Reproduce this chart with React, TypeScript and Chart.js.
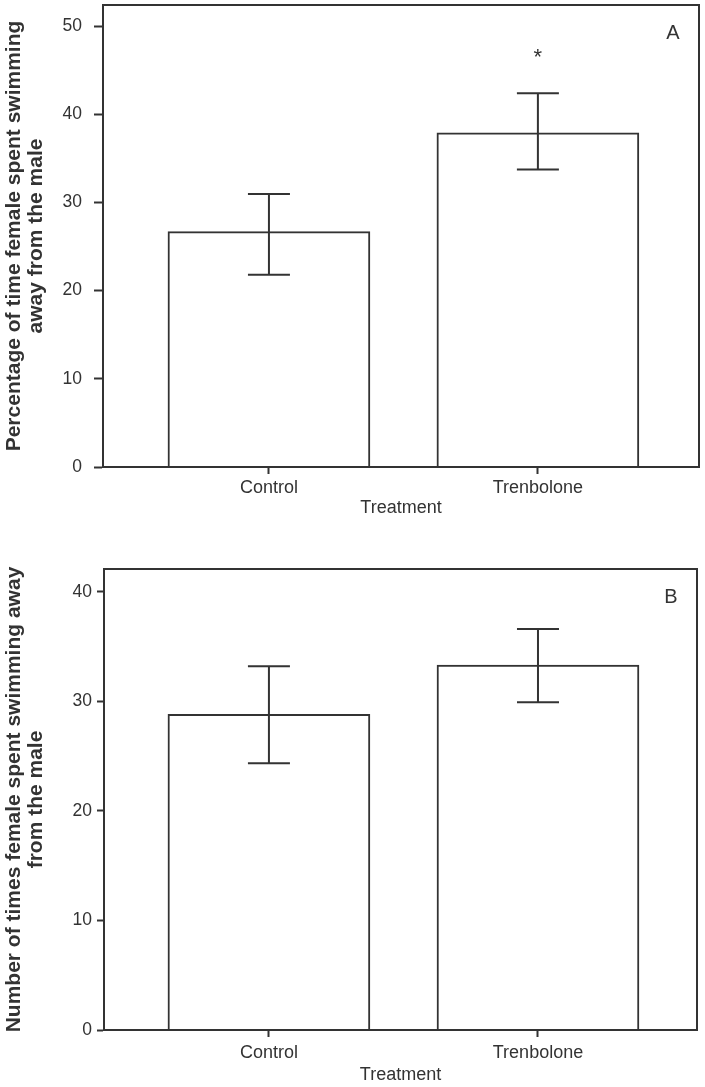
import React, { useEffect, useRef } from "react";
import { Chart, registerables } from "chart.js";

Chart.register(...registerables);

// ---- data ----
const categories = ["Control", "Trenbolone"];
const categoryPositions = [1, 2];

const pctMeans = [26.7, 37.9];
const pctUpper = [30.95, 42.4];
const pctLower = [21.8, 33.75];
const pctTicks = [0, 10, 20, 30, 40, 50];
const pctMarks = ["", "*"];

const countMeans = [28.8, 33.3];
const countUpper = [33.2, 36.6];
const countLower = [24.35, 29.9];
const countTicks = [0, 10, 20, 30, 40];
const countMarks = ["", ""];

const FONT = "'Liberation Sans', Arial, Helvetica, sans-serif";
const INK = "#333333";

type PanelProps = {
  height: number;
  panelLabel: string;
  yTitle: string[];
  means: number[];
  upper: number[];
  lower: number[];
  ticks: number[];
  marks: string[];
  markValue: number;
  yMax: number;
  xMin: number;
  xMax: number;
  padTop: number;
  padRight: number;
  padBottom: number;
  yAxisWidth: number;
  xAxisHeight: number;
  yTickLen: number;
  yTickPad: number;
  xTickPad: number;
};

function Panel(p: PanelProps) {
  const ref = useRef<HTMLCanvasElement | null>(null);
  useEffect(() => {
    if (!ref.current) return;
    const overlay = {
      id: "overlay",
      afterDatasetsDraw(chart: any) {
        const ctx = chart.ctx;
        const xs = chart.scales.x;
        const ys = chart.scales.y;
        const a = chart.chartArea;
        ctx.save();
        ctx.strokeStyle = INK;
        ctx.lineWidth = 2;
        // error bars
        categoryPositions.forEach((pos, i) => {
          const x = xs.getPixelForValue(pos);
          const yt = ys.getPixelForValue(p.upper[i]);
          const yb = ys.getPixelForValue(p.lower[i]);
          ctx.beginPath();
          ctx.moveTo(x, yt);
          ctx.lineTo(x, yb);
          ctx.moveTo(x - 21, yt);
          ctx.lineTo(x + 21, yt);
          ctx.moveTo(x - 21, yb);
          ctx.lineTo(x + 21, yb);
          ctx.stroke();
          if (p.marks[i]) {
            ctx.fillStyle = INK;
            ctx.font = `22px ${FONT}`;
            ctx.textAlign = "center";
            ctx.textBaseline = "middle";
            ctx.fillText(p.marks[i], x, ys.getPixelForValue(p.markValue));
          }
        });
        // frame
        ctx.strokeRect(a.left, a.top, a.right - a.left, a.bottom - a.top);
        // panel letter
        ctx.fillStyle = INK;
        ctx.font = `20px ${FONT}`;
        ctx.textAlign = "center";
        ctx.textBaseline = "middle";
        ctx.fillText(p.panelLabel, a.right - 26, a.top + 28);
        ctx.restore();
      },
    };
    const chart = new Chart(ref.current, {
      type: "bar",
      data: {
        datasets: [
          {
            data: categoryPositions.map((x, i) => ({ x, y: p.means[i] })),
            backgroundColor: "#ffffff",
            borderColor: INK,
            borderWidth: 2,
            borderSkipped: "bottom",
            barThickness: 202,
          } as any,
        ],
      },
      options: {
        animation: false,
        responsive: false,
        maintainAspectRatio: false,
        layout: {
          padding: { top: p.padTop, right: p.padRight, bottom: p.padBottom, left: 0 },
        },
        plugins: { legend: { display: false }, tooltip: { enabled: false } },
        scales: {
          x: {
            type: "linear",
            offset: false,
            min: p.xMin,
            max: p.xMax,
            afterBuildTicks: (s: any) => {
              s.ticks = categoryPositions.map((v) => ({ value: v }));
            },
            afterFit: (s: any) => {
              s.height = p.xAxisHeight;
              s.paddingLeft = 0;
              s.paddingRight = 0;
              s.paddingTop = 0;
              s.paddingBottom = 0;
            },
            grid: {
              offset: false,
              drawOnChartArea: false,
              drawTicks: true,
              tickLength: 7,
              tickWidth: 2,
              tickColor: INK,
              color: INK,
            },
            border: { display: true, color: INK, width: 2 },
            ticks: {
              autoSkip: false,
              maxRotation: 0,
              padding: p.xTickPad,
              color: INK,
              font: { family: FONT, size: 18 },
              callback: (v: any) => categories[categoryPositions.indexOf(Number(v))] ?? "",
            },
            title: {
              display: true,
              text: "Treatment",
              color: INK,
              padding: 0,
              font: { family: FONT, size: 18, lineHeight: 1.2 },
            },
          },
          y: {
            type: "linear",
            min: 0,
            max: p.yMax,
            afterBuildTicks: (s: any) => {
              s.ticks = p.ticks.map((v) => ({ value: v }));
            },
            afterFit: (s: any) => {
              s.width = p.yAxisWidth;
              s.paddingLeft = 0;
              s.paddingRight = 0;
              s.paddingTop = 0;
              s.paddingBottom = 0;
            },
            grid: {
              drawOnChartArea: false,
              drawTicks: true,
              tickLength: p.yTickLen,
              tickWidth: 2,
              tickColor: INK,
              color: INK,
            },
            border: { display: true, color: INK, width: 2 },
            ticks: {
              padding: p.yTickPad,
              color: INK,
              font: { family: FONT, size: 17.5 },
            },
            title: {
              display: true,
              text: p.yTitle,
              color: INK,
              padding: { top: 3, bottom: 0 },
              font: { family: FONT, size: 21, weight: "bold", lineHeight: 1.05 },
            },
          },
        },
      },
      plugins: [overlay],
    } as any);
    return () => chart.destroy();
  }, []);
  return (
    <div style={{ width: 705, height: p.height, position: "relative" }}>
      <canvas ref={ref} width={705} height={p.height} style={{ display: "block" }} />
    </div>
  );
}

export default function App() {
  return (
    <div style={{ position: "absolute", left: 0, top: 0, width: 705, height: 1087, background: "#fff" }}>
      <Panel
        height={535}
        panelLabel="A"
        yTitle={["Percentage of time female spent swimming", "away from the male"]}
        means={pctMeans}
        upper={pctUpper}
        lower={pctLower}
        ticks={pctTicks}
        marks={pctMarks}
        markValue={46.4}
        yMax={52.4}
        xMin={0.383}
        xMax={2.599}
        padTop={5}
        padRight={6}
        padBottom={16.2}
        yAxisWidth={103}
        xAxisHeight={51.8}
        yTickLen={9}
        yTickPad={12}
        xTickPad={3}
      />
      <Panel
        height={552}
        panelLabel="B"
        yTitle={["Number of times female spent swimming away", "from the male"]}
        means={countMeans}
        upper={countUpper}
        lower={countLower}
        ticks={countTicks}
        marks={countMarks}
        markValue={0}
        yMax={42.07}
        xMin={0.387}
        xMax={2.591}
        padTop={34}
        padRight={8}
        padBottom={1.4}
        yAxisWidth={104}
        xAxisHeight={55.6}
        yTickLen={7}
        yTickPad={5}
        xTickPad={5}
      />
    </div>
  );
}
